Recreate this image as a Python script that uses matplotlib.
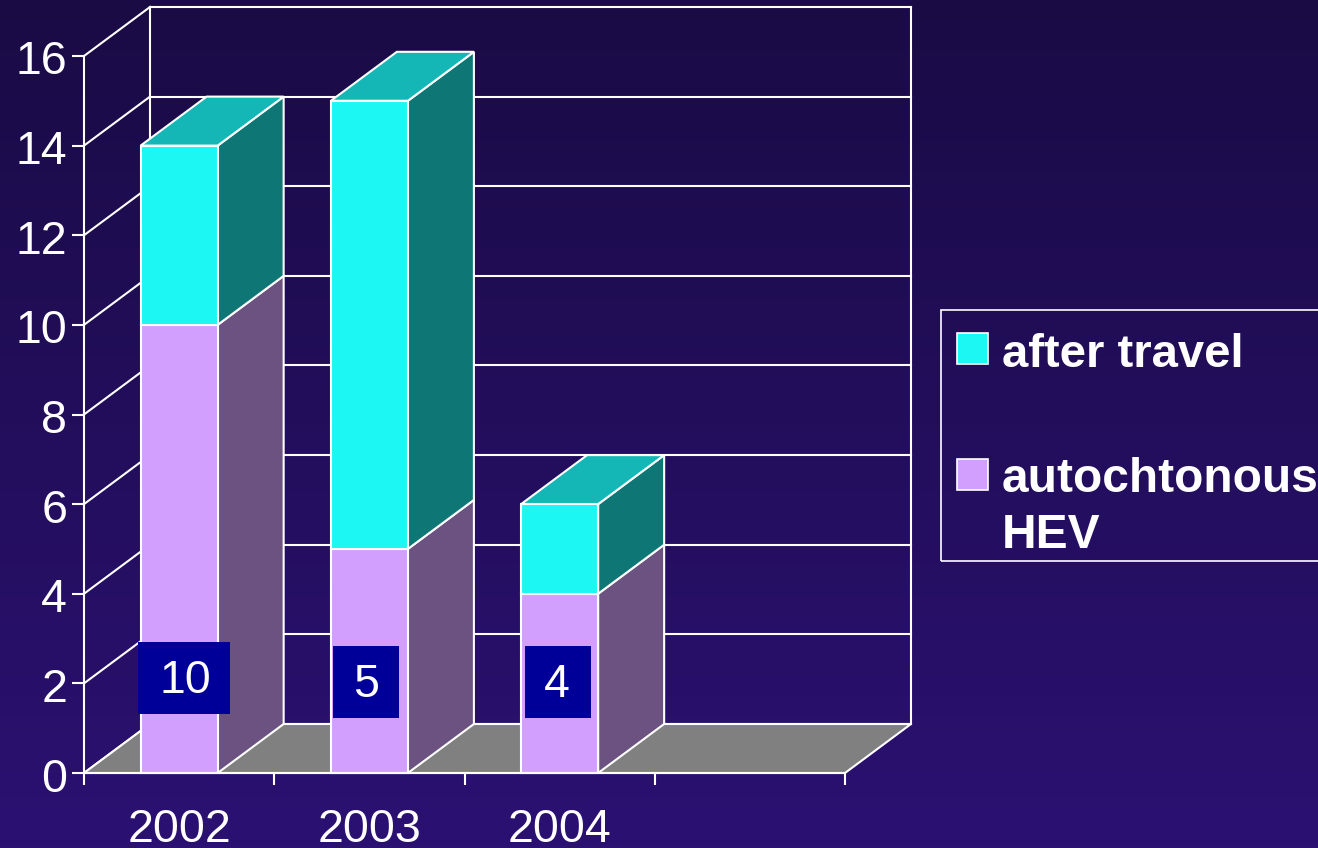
import numpy as np
import matplotlib
matplotlib.use('Agg')
import matplotlib.pyplot as plt
from matplotlib.patches import Polygon, Rectangle
from matplotlib.transforms import ScaledTranslation

plt.rcParams['font.family'] = ['Liberation Sans', 'DejaVu Sans']

# data
years = ['2002', '2003', '2004']
autochtonous = [10, 5, 4]
after_travel = [4, 10, 2]
box_labels = ['10', '5', '4']
y_ticks = [0, 2, 4, 6, 8, 10, 12, 14, 16]
n_slots = 4

W, H = 1318, 848
PX_X = 190.25           # pixels for one x unit
PX_Y = 44.81            # pixels for one y unit
DEPTH_X = 66 / PX_X     # depth of the fake 3d, in x units
DEPTH_Y = 49 / PX_Y     # same, in y units
BAR_W = 0.405
LW = 1.5
PURPLE = '#d29fff'
CYAN = '#1cf7f4'

fig = plt.figure(figsize=(W / 100, H / 100), dpi=100)

# background gradient
bg = fig.add_axes([0, 0, 1, 1], zorder=0)
grad = np.linspace(0, 1, 256).reshape(-1, 1)
cmap = matplotlib.colors.LinearSegmentedColormap.from_list('bg', ['#1a0b45', '#2b1172'])
bg.imshow(grad, aspect='auto', cmap=cmap)
bg.axis('off')

ax = fig.add_axes([84 / W, 1 - 773 / H, (845 - 84) / W, (773 - 56) / H], zorder=1)
ax.patch.set_alpha(0)
ax.set_xlim(0, n_slots)
ax.set_ylim(0, 16)


def poly(pts, face, z):
    ax.add_patch(Polygon(pts, closed=True, facecolor=face, edgecolor='white',
                         linewidth=LW, joinstyle='miter', clip_on=False, zorder=z))


def wall_line(xs, ys, z=1):
    ax.plot(xs, ys, color='white', lw=LW, clip_on=False, zorder=z)


# walls and grid
for t in y_ticks:
    wall_line([0, DEPTH_X], [t, t + DEPTH_Y])
    wall_line([DEPTH_X, n_slots + DEPTH_X], [t + DEPTH_Y, t + DEPTH_Y])
wall_line([DEPTH_X, DEPTH_X], [DEPTH_Y, 16 + DEPTH_Y])
wall_line([n_slots + DEPTH_X, n_slots + DEPTH_X], [DEPTH_Y, 16 + DEPTH_Y])

# floor
poly([(0, 0), (DEPTH_X, DEPTH_Y), (n_slots + DEPTH_X, DEPTH_Y), (n_slots, 0)], '#808080', 2)


def box(x0, y0, y1, front, side, top=None, z=3):
    x1 = x0 + BAR_W
    poly([(x1, y0), (x1 + DEPTH_X, y0 + DEPTH_Y), (x1 + DEPTH_X, y1 + DEPTH_Y), (x1, y1)], side, z)
    if top:
        poly([(x0, y1), (x0 + DEPTH_X, y1 + DEPTH_Y), (x1 + DEPTH_X, y1 + DEPTH_Y), (x1, y1)], top, z)
    poly([(x0, y0), (x1, y0), (x1, y1), (x0, y1)], front, z + 0.1)


# bars
for i in range(len(years)):
    x0 = i + 0.5 - BAR_W / 2
    a = autochtonous[i]
    b = after_travel[i]
    box(x0, 0, a, PURPLE, '#6b5280', z=3 + i)
    box(x0, a, a + b, CYAN, '#0e7775', '#14b7b5', z=3.2 + i)

# the navy boxes with counts, pasted on top of the chart
box_dx = [0.026, -0.02, -0.01]
box_cy = [2.12, 2.03, 2.03]
box_w = [92, 66, 66]
text_dx = [1, 1, -1]
for i, lab in enumerate(box_labels):
    cx = i + 0.5 + box_dx[i]
    ax.add_patch(Rectangle((cx - box_w[i] / PX_X / 2, box_cy[i] - 36 / PX_Y), box_w[i] / PX_X, 72 / PX_Y,
                           facecolor='#000099', edgecolor='none', clip_on=False, zorder=10))
    ax.text(cx + text_dx[i] / PX_X, box_cy[i] - 15 / PX_Y, lab, color='white', fontsize=33.5,
            ha='center', va='baseline', zorder=11)

# axes
for s in ['top', 'right']:
    ax.spines[s].set_visible(False)
for s in ['left', 'bottom']:
    ax.spines[s].set_color('white')
    ax.spines[s].set_linewidth(LW)
    ax.spines[s].set_zorder(9)
ax.set_yticks(y_ticks)
ax.set_xticks(range(n_slots + 1))
ax.set_xticklabels([])
ax.set_xticks([i + 0.5 for i in range(len(years))], labels=years, minor=True)
ax.tick_params(axis='x', which='major', length=8.6, width=LW, color='white', direction='out')
ax.tick_params(axis='x', which='minor', length=0, pad=25, labelsize=33.5, labelcolor='white')
ax.tick_params(axis='y', length=8.6, width=LW, color='white', pad=3.5, labelsize=33.5, labelcolor='white')
# y labels sit a bit lower than their ticks in the original
for t in ax.get_yticklabels():
    t.set_transform(t.get_transform() + ScaledTranslation(0, -1.5 / 100, fig.dpi_scale_trans))


# legend, drawn by hand because the swatch sits on the first line of its label
def fx(px):
    return px / W


def fy(px):
    return 1 - px / H


fig.add_artist(Rectangle((fx(941), fy(561)), fx(400), 251 / H, transform=fig.transFigure,
                         facecolor='none', edgecolor='white', linewidth=1.2))
legend_labels = ['after travel', 'autochtonous\nHEV']
legend_colors = [CYAN, PURPLE]
legend_sizes = [34, 34.5]
swatch_top = [333, 459]
text_base = [367, 548]
for lab, col, size, top, base in zip(legend_labels, legend_colors, legend_sizes, swatch_top, text_base):
    fig.add_artist(Rectangle((fx(957), fy(top + 31)), 31 / W, 31 / H, transform=fig.transFigure,
                             facecolor=col, edgecolor='white', linewidth=1.2))
    fig.text(fx(1002), fy(base), lab, color='white', fontsize=size, fontweight='bold',
             ha='left', va='baseline', linespacing=1.32)

fig.savefig('out.png', dpi=100)
